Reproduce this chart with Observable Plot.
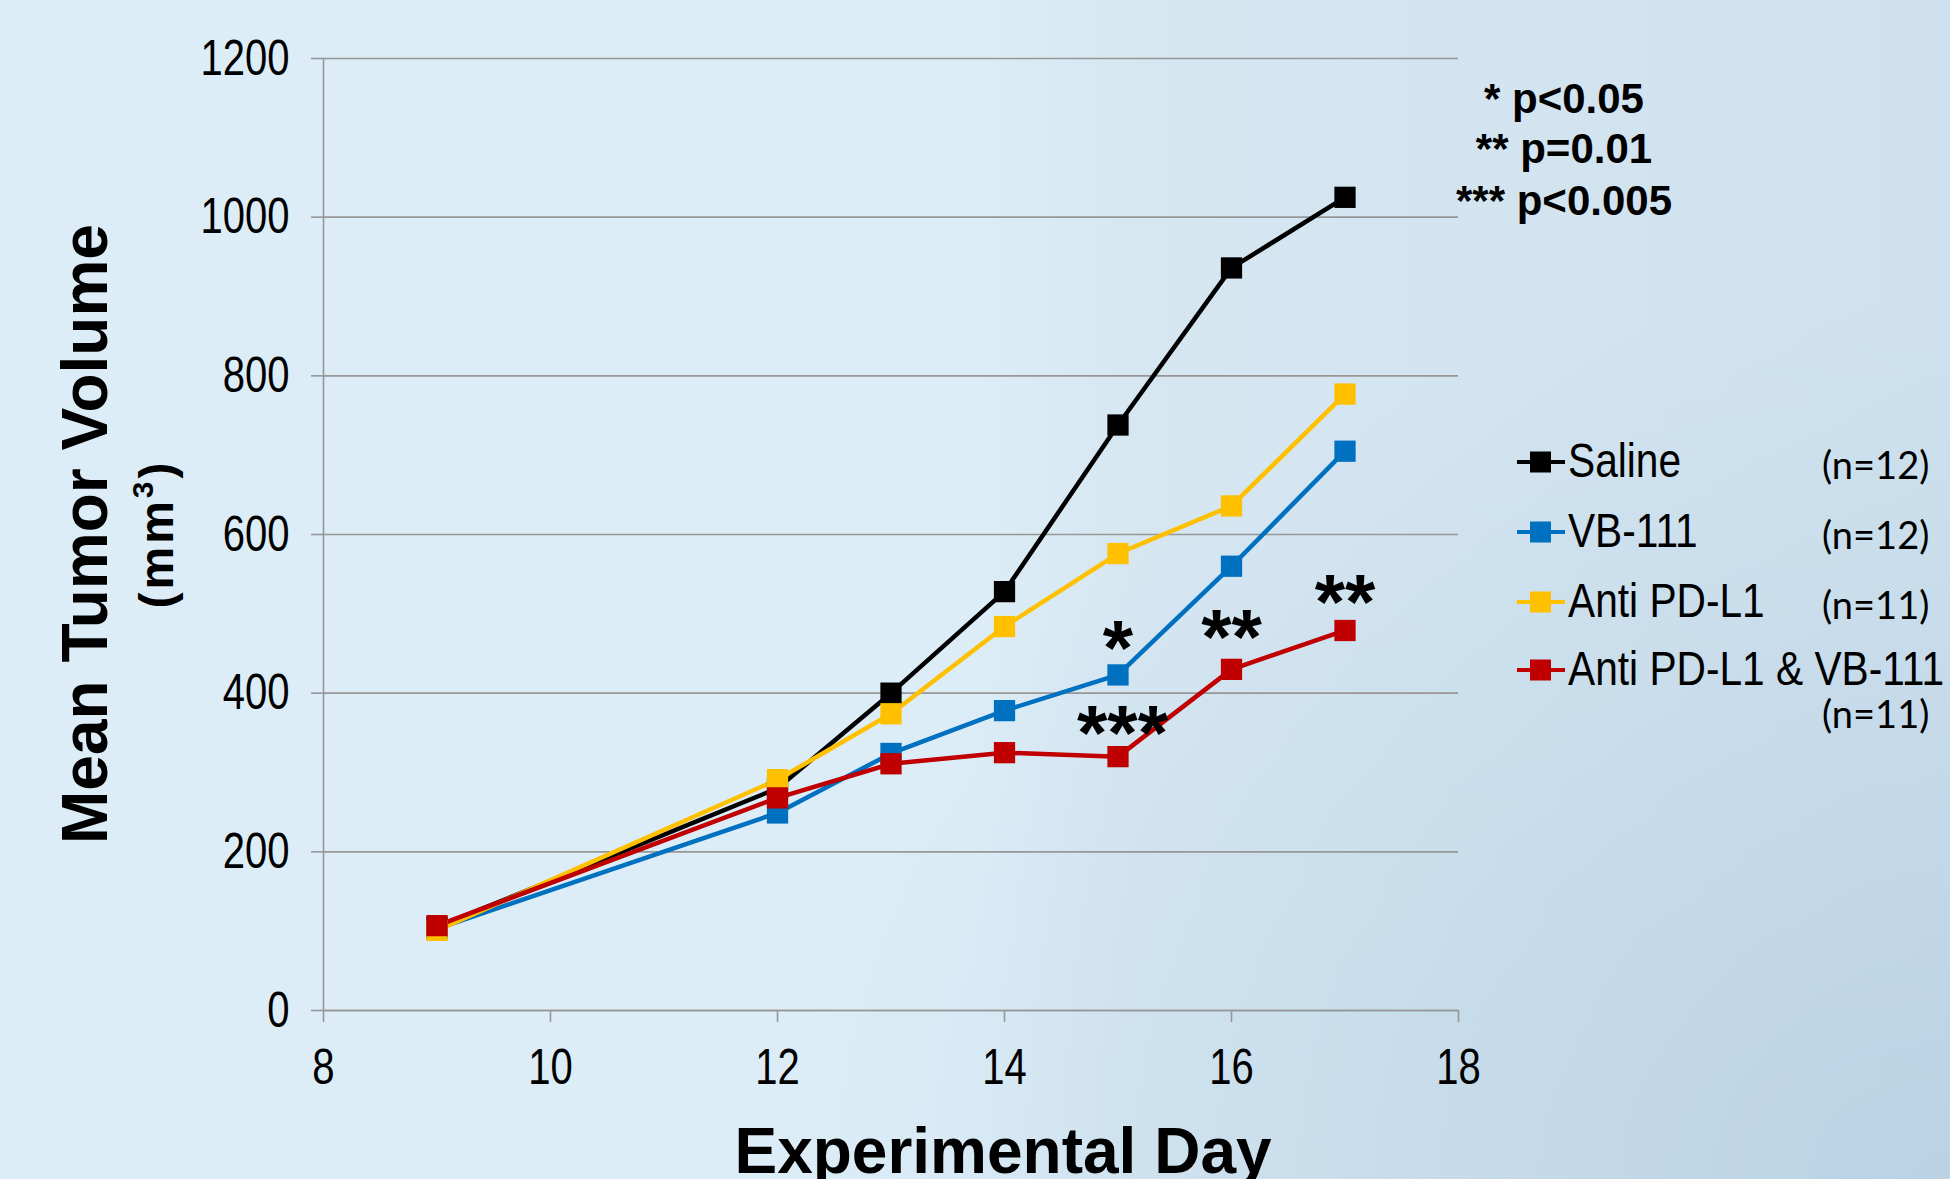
<!DOCTYPE html>
<html><head><meta charset="utf-8">
<script src="https://cdn.jsdelivr.net/npm/d3@7"></script>
<script src="https://cdn.jsdelivr.net/npm/@observablehq/plot@0.6"></script>
<style>
html,body{margin:0;padding:0;width:1950px;height:1179px;overflow:hidden;}
body{position:relative;
 background:
  radial-gradient(ellipse 60% 75% at 100% 100%, rgba(170,198,220,0.55), rgba(170,198,220,0) 100%),
  linear-gradient(90deg, #dcedf7 0%, #dcedf7 50%, #d6e7f2 58%, #cfe1ee 100%);}
#chart{position:absolute;left:0;top:0;}
#overlay{position:absolute;left:0;top:0;pointer-events:none;}
</style></head><body>
<div id="chart"></div>
<svg id="overlay" width="1950" height="1179"></svg>
<script>
// ---- data ----
const days = [9, 12, 13, 14, 15, 16, 17];
const seriesNames = ["Saline", "VB-111", "Anti PD-L1", "Anti PD-L1 & VB-111"];
const seriesN = ["(n=12)", "(n=12)", "(n=11)", "(n=11)"];
const seriesColors = ["#000000", "#0070c0", "#ffc000", "#c00000"];
const saline   = [105, 280, 400, 528, 738, 936, 1025];
const vb111    = [103, 249, 324, 378, 423, 560, 705];
const antiPDL1 = [101, 291, 374, 484, 576, 636, 777];
const combo    = [107, 268, 311, 325, 320, 430, 479];
const xTicks = [8, 10, 12, 14, 16, 18];
const yTicks = [0, 200, 400, 600, 800, 1000, 1200];
const annotDays   = [15, 15.04, 16, 17];
const annotValues = [469, 362, 483, 528];
const annotLabels = ["*", "***", "**", "**"];
const pLegend = ["* p<0.05", "** p=0.01", "*** p<0.005"];
const yTitle = "Mean Tumor Volume";
const yUnit = "(mm";
const xTitle = "Experimental Day";

const seriesValues = [saline, vb111, antiPDL1, combo];
const rows = [];
seriesNames.forEach((name, si) => days.forEach((d, i) => rows.push({series: name, day: d, value: seriesValues[si][i]})));
const annots = annotDays.map((d, i) => ({day: d, value: annotValues[i], label: annotLabels[i]}));

const grid = "#979797";
const sans = "'Liberation Sans', Arial, sans-serif";

const chart = Plot.plot({
  width: 1950, height: 1179,
  marginLeft: 323, marginRight: 492, marginTop: 58, marginBottom: 169,
  style: {background: "transparent", fontFamily: sans, color: "#000", overflow: "visible"},
  x: {domain: [8, 18]},
  y: {domain: [0, 1200]},
  color: {domain: seriesNames, range: seriesColors},
  marks: [
    Plot.gridY(yTicks, {stroke: grid, strokeOpacity: 1, strokeWidth: 1.6}),
    Plot.axisY({ticks: yTicks, tickSize: 12, tickPadding: 22, fontSize: 50, label: null, stroke: grid, strokeWidth: 1.6, tickFormat: d => String(d)}),
    Plot.axisX({ticks: xTicks, tickSize: 12, tickPadding: 26, fontSize: 50, label: null, stroke: grid, strokeWidth: 1.6, tickFormat: d => String(d)}),
    Plot.ruleX([8], {stroke: grid, strokeWidth: 1.6}),
    Plot.ruleY([0], {stroke: grid, strokeWidth: 1.6}),
    Plot.line(rows, {x: "day", y: "value", z: "series", stroke: "series", strokeWidth: 4.5}),
    Plot.dot(rows, {x: "day", y: "value", fill: "series", symbol: "square", r: 12, stroke: null}),
    Plot.text(annots, {x: "day", y: "value", text: "label", fontSize: 78, fontWeight: "bold",
      fontFamily: sans, fill: "#000", dy: 12, textAnchor: "middle"})
  ]
});
document.getElementById("chart").appendChild(chart);

// condense a text element horizontally (Arial Narrow look)
function condense(el, f) {
  const w = el.getComputedTextLength();
  if (w > 0) { el.setAttribute("textLength", (w * f).toFixed(1)); el.setAttribute("lengthAdjust", "spacingAndGlyphs"); }
}
chart.querySelectorAll('[aria-label="y-axis tick label"] text, [aria-label="x-axis tick label"] text')
  .forEach(t => condense(t, 0.8));

// ---- overlay texts: legend, p-values, axis titles ----
const ov = d3.select("#overlay");
const rowBase = [477, 547, 617, 685];
seriesNames.forEach((name, i) => {
  const b = rowBase[i];
  ov.append("line").attr("x1", 1517).attr("x2", 1565).attr("y1", b - 15).attr("y2", b - 15)
    .attr("stroke", seriesColors[i]).attr("stroke-width", 4);
  ov.append("rect").attr("x", 1530).attr("y", b - 25.5).attr("width", 21).attr("height", 21).attr("fill", seriesColors[i]);
  const t = ov.append("text").attr("x", 1568).attr("y", b).attr("font-family", sans).attr("font-size", 49).text(name);
  condense(t.node(), 0.83);
  ov.append("text").attr("x", 1822).attr("y", i === 3 ? 728 : b + 2).attr("font-family", "Lato, 'Open Sans', sans-serif")
    .attr("font-size", 38).text(seriesN[i]);
});
const pBase = [113, 163, 215];
pLegend.forEach((t, i) => {
  ov.append("text").attr("x", 1564).attr("y", pBase[i]).attr("text-anchor", "middle")
    .attr("font-family", sans).attr("font-weight", "bold").attr("font-size", 42).text(t);
});
ov.append("text").attr("transform", "translate(107,534) rotate(-90)").attr("text-anchor", "middle")
  .attr("font-family", sans).attr("font-weight", "bold").attr("font-size", 64).text(yTitle);
const unit = ov.append("text").attr("transform", "translate(173,534) rotate(-90)").attr("text-anchor", "middle")
  .attr("font-family", sans).attr("font-weight", "bold").attr("font-size", 48).attr("letter-spacing", 3);
unit.append("tspan").text(yUnit);
unit.append("tspan").attr("font-size", 30).attr("dy", -20).text("3");
unit.append("tspan").attr("dy", 20).text(")");
ov.append("text").attr("x", 1003).attr("y", 1173).attr("text-anchor", "middle")
  .attr("font-family", sans).attr("font-weight", "bold").attr("font-size", 64).text(xTitle);
</script>
</body></html>
